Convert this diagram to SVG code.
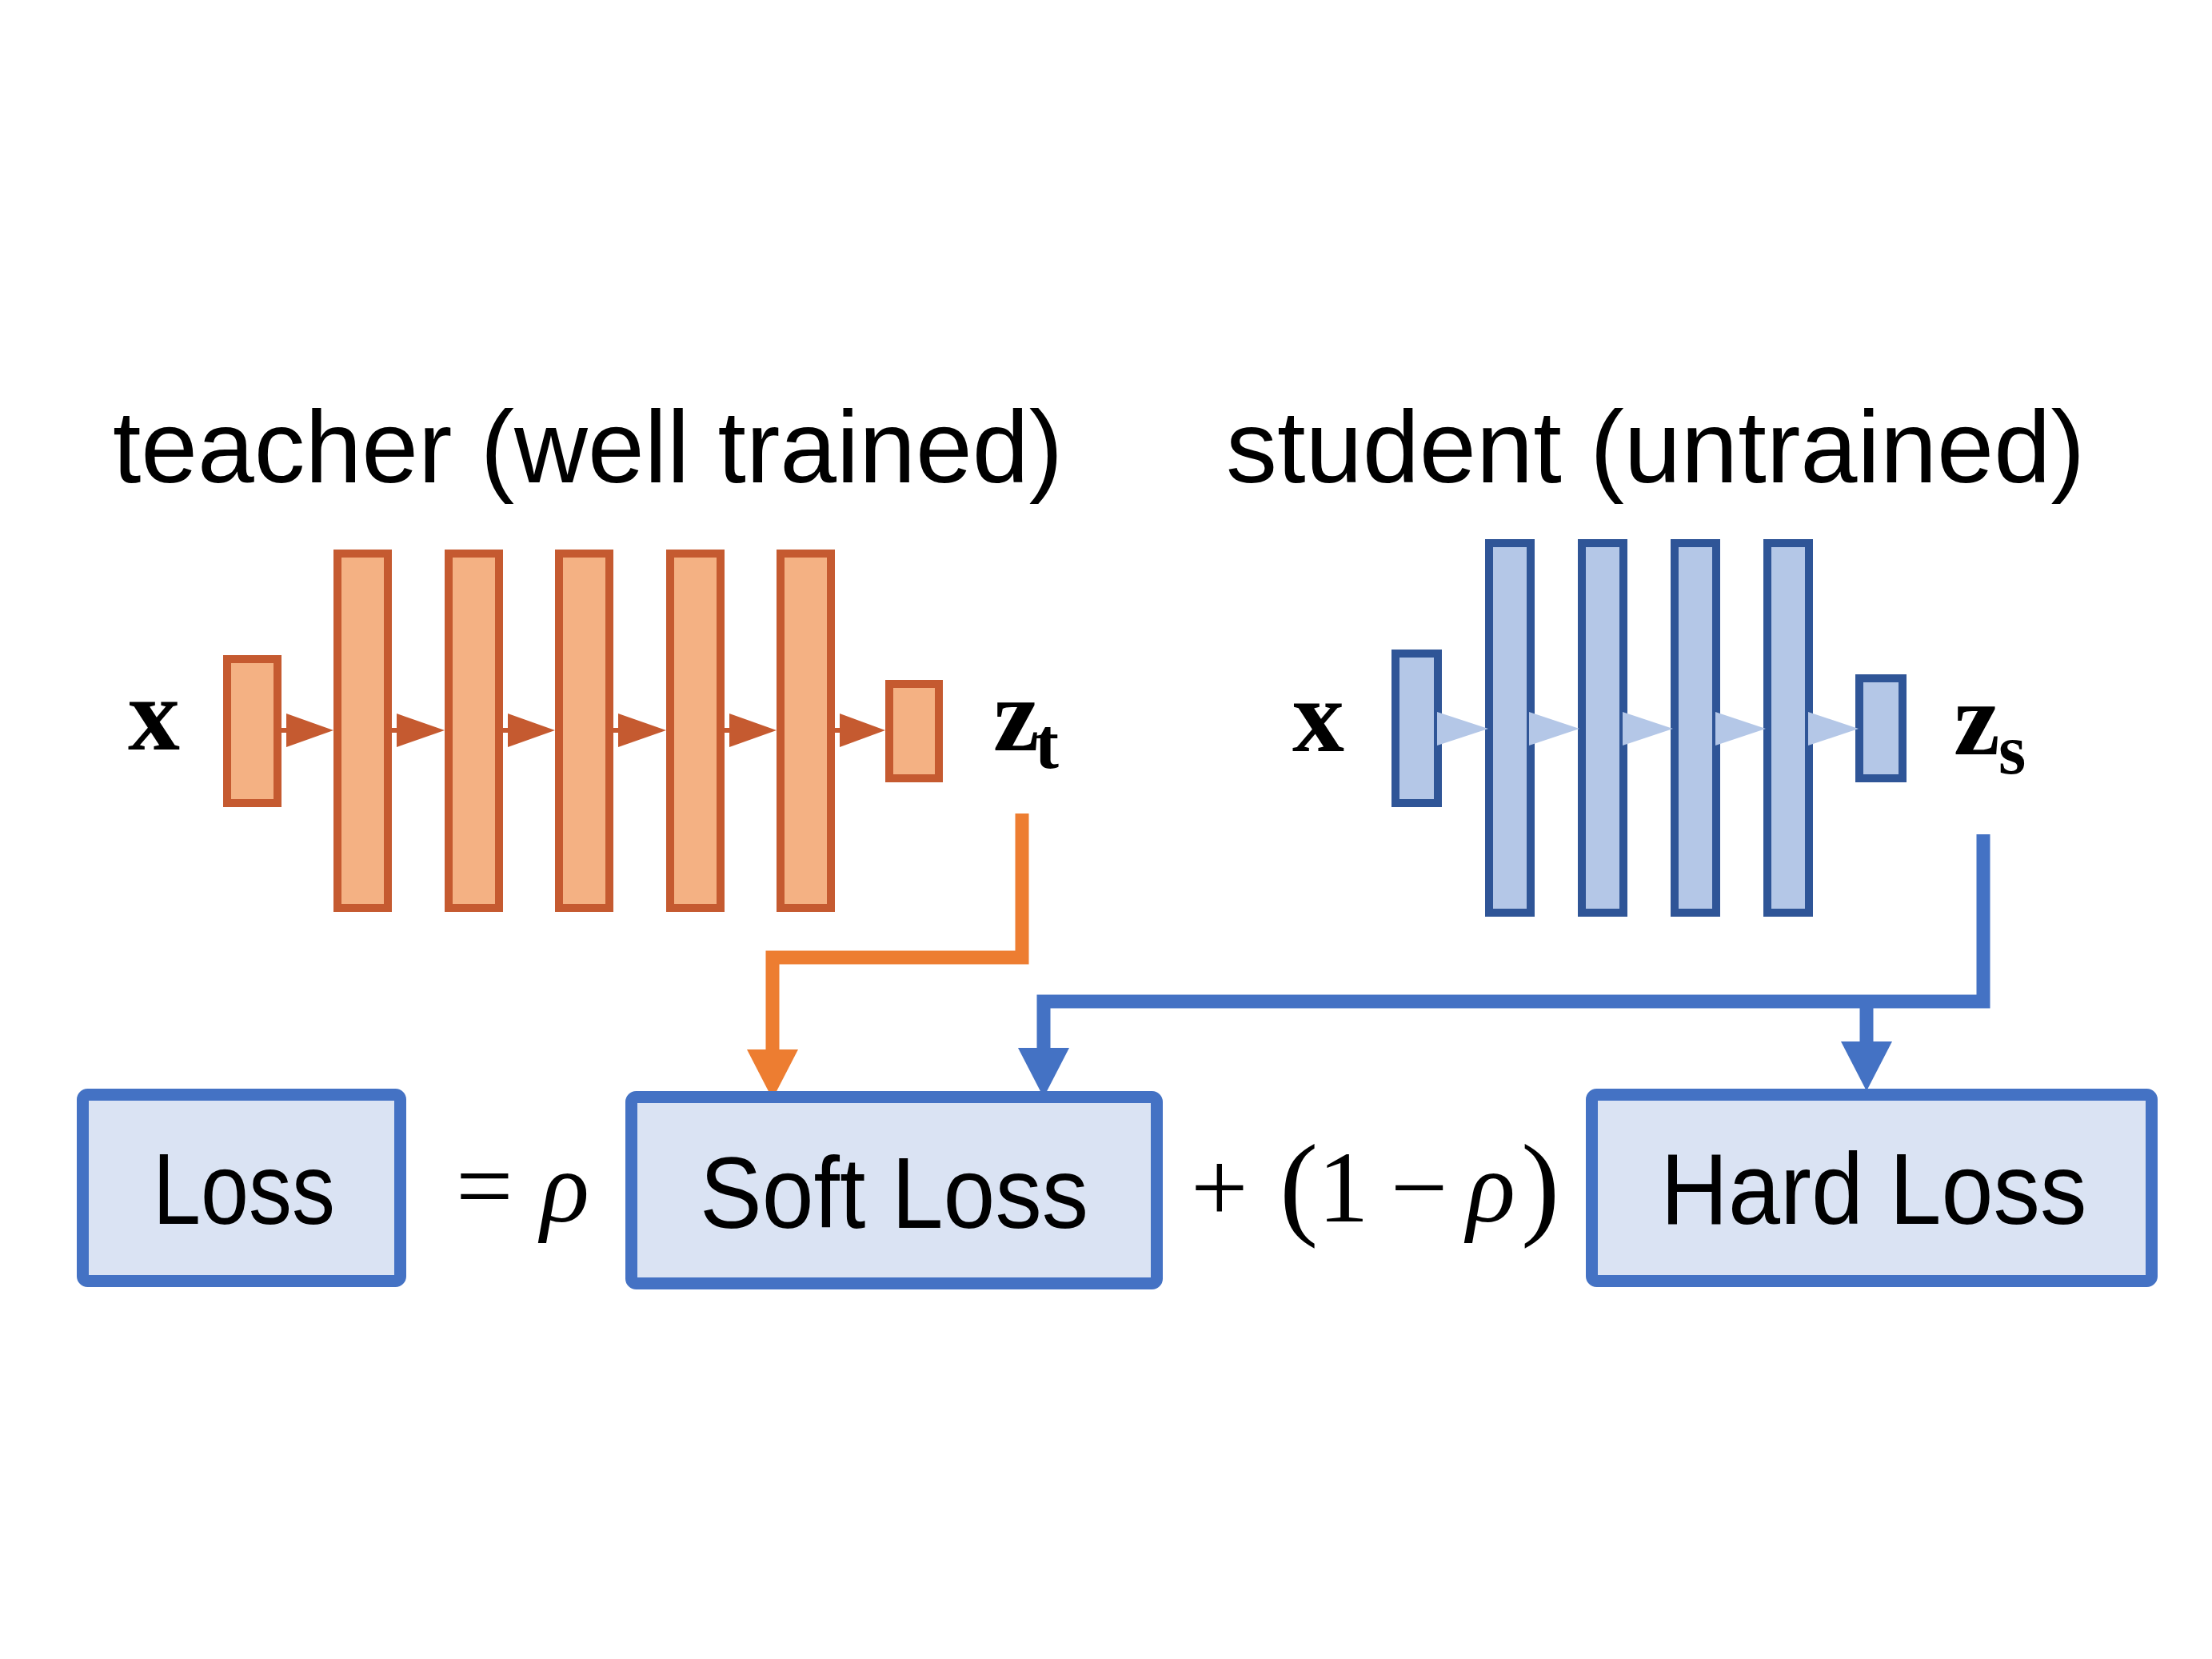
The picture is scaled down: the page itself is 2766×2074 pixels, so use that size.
<svg xmlns="http://www.w3.org/2000/svg" width="2766" height="2074" viewBox="0 0 2766 2074">
<style>
.t-box{fill:#F4B183;stroke:#C55A30;stroke-width:10}
.t-arr{fill:#C55A30}
.t-shaft{stroke:#C55A30;stroke-width:6}
.s-box{fill:#B4C7E7;stroke:#2F5597;stroke-width:10}
.s-arr{fill:#B4C7E7}
.loss{fill:#DAE3F3;stroke:#4472C4;stroke-width:15}
.title{font-family:"Liberation Sans",Arial,sans-serif;font-size:128px;fill:#000}
.lbl{font-family:"Liberation Sans",Arial,sans-serif;font-size:126px;fill:#000;text-anchor:middle}
.math{font-family:"Liberation Serif","Times New Roman",serif;font-size:127px;fill:#000}
.mi{font-style:italic}
.par{font-size:145px}
.bold{font-family:"Liberation Serif","Times New Roman",serif;font-weight:bold;fill:#000}
.c-or{fill:none;stroke:#ED7D31;stroke-width:17}
.c-bl{fill:none;stroke:#4472C4;stroke-width:17}
</style>
<defs>
<marker id="hOr" markerUnits="userSpaceOnUse" viewBox="0 0 62 64" markerWidth="62" markerHeight="64" refX="0" refY="32" orient="auto"><path d="M0,0 L62,32 L0,64 z" fill="#ED7D31"/></marker>
<marker id="hBl" markerUnits="userSpaceOnUse" viewBox="0 0 62 64" markerWidth="62" markerHeight="64" refX="0" refY="32" orient="auto"><path d="M0,0 L62,32 L0,64 z" fill="#4472C4"/></marker>
</defs>
<rect width="2766" height="2074" fill="#fff"/>

<g id="titles">
<text class="title" x="141" y="603" textLength="1188" lengthAdjust="spacingAndGlyphs">teacher (well trained)</text>
<text class="title" x="1533" y="603" textLength="1074" lengthAdjust="spacingAndGlyphs">student (untrained)</text>
</g>

<g id="teacher">
<text class="bold" x="160" y="937" font-size="130">x</text>
<rect class="t-box" x="284" y="824" width="63" height="180"/>
<rect class="t-box" x="422" y="692" width="63" height="443"/>
<rect class="t-box" x="561" y="692" width="63" height="443"/>
<rect class="t-box" x="699" y="692" width="63" height="443"/>
<rect class="t-box" x="838" y="692" width="63" height="443"/>
<rect class="t-box" x="976" y="692" width="63" height="443"/>
<rect class="t-box" x="1112" y="855" width="62" height="118"/>
<g id="teacher-arrows">
<line class="t-shaft" x1="352" y1="913" x2="400" y2="913"/>
<line class="t-shaft" x1="490" y1="913" x2="540" y2="913"/>
<line class="t-shaft" x1="629" y1="913" x2="680" y2="913"/>
<line class="t-shaft" x1="767" y1="913" x2="820" y2="913"/>
<line class="t-shaft" x1="906" y1="913" x2="960" y2="913"/>
<line class="t-shaft" x1="1044" y1="913" x2="1095" y2="913"/>
<polygon class="t-arr" points="358,892 417,913 358,934"/>
<polygon class="t-arr" points="496,892 556,913 496,934"/>
<polygon class="t-arr" points="635,892 694,913 635,934"/>
<polygon class="t-arr" points="773,892 833,913 773,934"/>
<polygon class="t-arr" points="912,892 971,913 912,934"/>
<polygon class="t-arr" points="1050,892 1107,913 1050,934"/>
</g>
<text class="bold" x="1242" y="938" font-size="130">z</text>
<text class="bold" x="1294" y="960" font-size="90">t</text>
</g>

<g id="student">
<text class="bold" x="1616" y="939" font-size="130">x</text>
<rect class="s-box" x="1745" y="817" width="53" height="187"/>
<rect class="s-box" x="1862" y="679" width="52" height="462"/>
<rect class="s-box" x="1978" y="679" width="52" height="462"/>
<rect class="s-box" x="2094" y="679" width="52" height="462"/>
<rect class="s-box" x="2210" y="679" width="52" height="462"/>
<rect class="s-box" x="2325" y="848" width="54" height="125"/>
<g id="student-arrows">
<polygon class="s-arr" points="1797,890 1861,911 1797,932"/>
<polygon class="s-arr" points="1912,890 1975,911 1912,932"/>
<polygon class="s-arr" points="2029,890 2092,911 2029,932"/>
<polygon class="s-arr" points="2145,890 2208,911 2145,932"/>
<polygon class="s-arr" points="2261,890 2324,911 2261,932"/>
</g>
<text class="bold" x="2443" y="943" font-size="130">z</text>
<text class="bold" x="2499" y="967" font-size="88">s</text>
</g>

<g id="connectors">
<path class="c-or" d="M1278,1017 V1197 H966 V1312" marker-end="url(#hOr)"/>
<path class="c-bl" d="M2480,1043 V1252 H1305 V1310" marker-end="url(#hBl)"/>
<path class="c-bl" d="M2334,1252 V1302" marker-end="url(#hBl)"/>
</g>

<g id="loss">
<rect class="loss" x="103.5" y="1368.5" width="397" height="233" rx="6"/>
<text class="lbl" x="305" y="1530" textLength="228" lengthAdjust="spacingAndGlyphs">Loss</text>
</g>
<g id="eq-rho">
<text class="math" x="570" y="1525">=</text>
<text class="math mi" x="676" y="1527">ρ</text>
</g>
<g id="soft-loss">
<rect class="loss" x="789.5" y="1371.5" width="657" height="233" rx="6"/>
<text class="lbl" x="1118" y="1535" textLength="486" lengthAdjust="spacingAndGlyphs">Soft Loss</text>
</g>
<g id="plus-term">
<text class="math" x="1489" y="1527">+</text>
<text class="math par" x="1600" y="1530">(</text>
<text class="math" x="1648" y="1527">1</text>
<text class="math" x="1739" y="1527">−</text>
<text class="math mi" x="1834" y="1527">ρ</text>
<text class="math par" x="1902" y="1530">)</text>
</g>
<g id="hard-loss">
<rect class="loss" x="1990.5" y="1368.5" width="700" height="233" rx="6"/>
<text class="lbl" x="2343" y="1530" textLength="533" lengthAdjust="spacingAndGlyphs">Hard Loss</text>
</g>
</svg>
